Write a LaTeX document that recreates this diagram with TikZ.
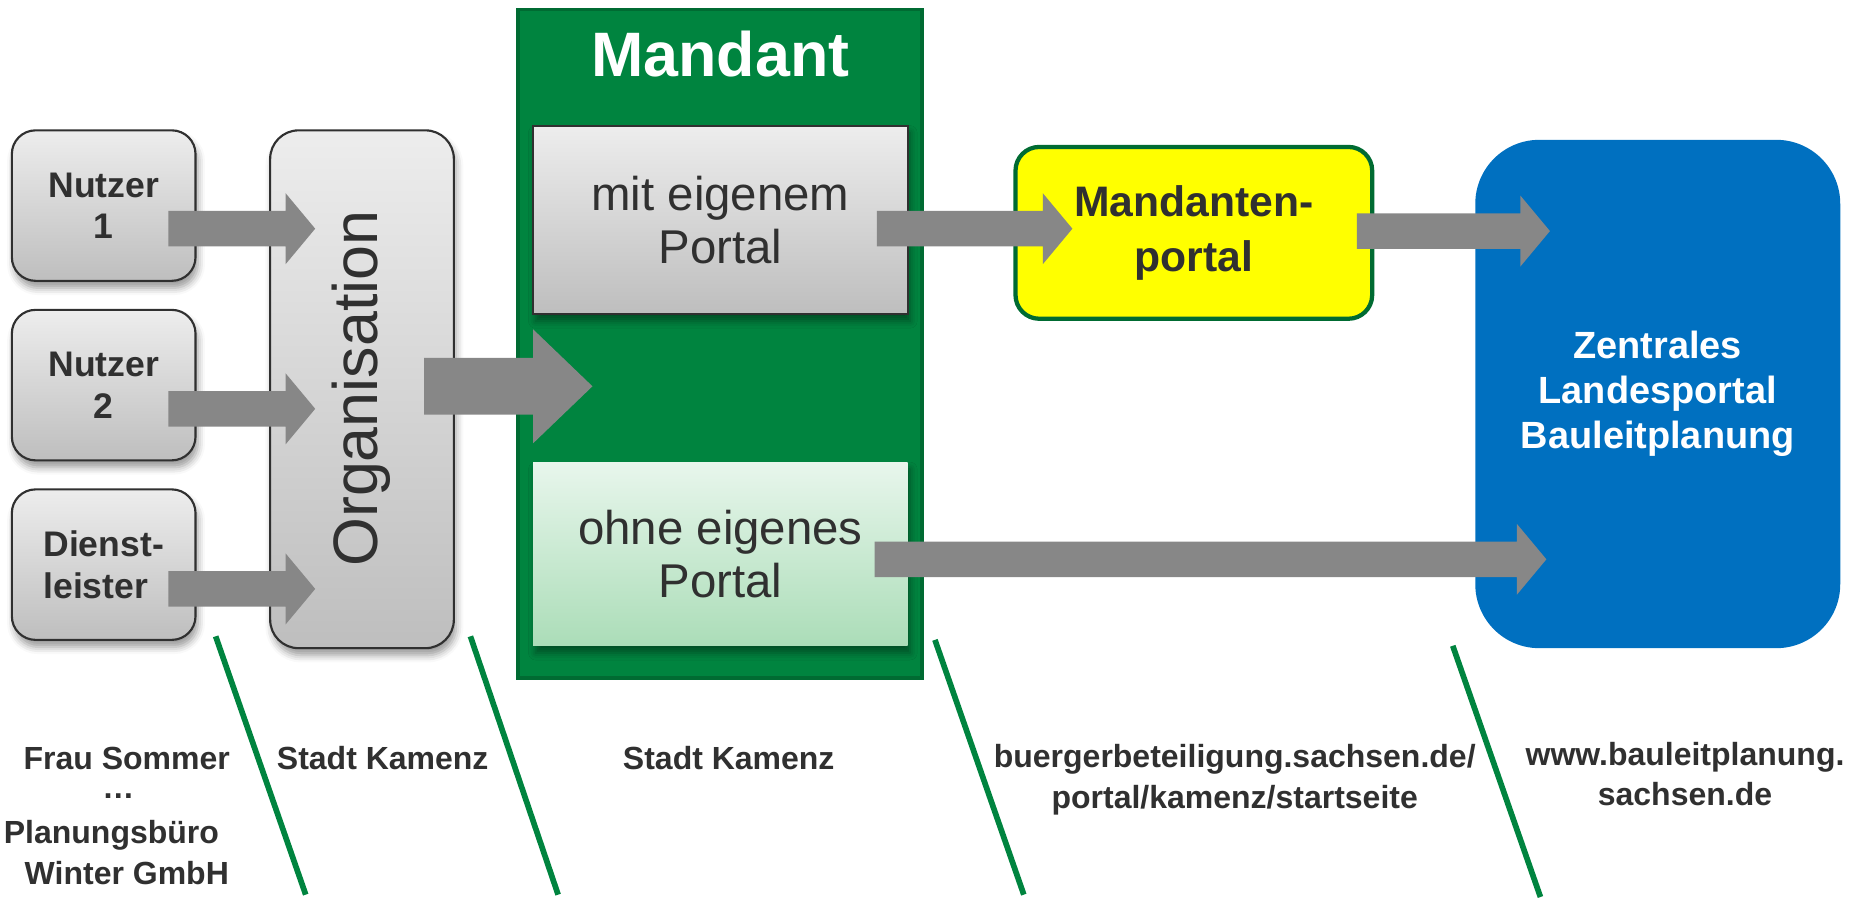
\documentclass[tikz,border=0pt]{standalone}
\usepackage{fontspec}
\setmainfont{Liberation Sans}
\usetikzlibrary{calc,shadows.blur}
\definecolor{txt}{HTML}{303030}
\definecolor{agray}{HTML}{878787}
\definecolor{mgreen}{HTML}{00843F}
\definecolor{mgreendark}{HTML}{006B32}
\definecolor{lgreentop}{HTML}{E8F6EC}
\definecolor{lgreenbot}{HTML}{ABDDB8}
\definecolor{gtop}{HTML}{EDEDED}
\definecolor{gbot}{HTML}{BEBEBE}
\definecolor{lblue}{HTML}{0070C0}
\definecolor{pyellow}{HTML}{FFFF00}
\newcommand\blockarrow[5]{%
  \fill[arrowfill] let \p1=(#1), \p2=(#2) in
    (\x1,\y1+#3) -- (\x2-#5,\y1+#3) -- (\x2-#5,\y1+#4) -- (\x2,\y1)
    -- (\x2-#5,\y1-#4) -- (\x2-#5,\y1-#3) -- (\x1,\y1-#3) -- cycle;}
\begin{document}
\begin{tikzpicture}[x=0.5pt,y=-0.5pt,
  arrowfill/.style={fill=agray},
  softshadow/.style={blur shadow={shadow xshift=1pt,shadow yshift=-3pt,shadow blur radius=3pt,shadow opacity=40}},
  graybox/.style={draw=txt,line width=0.9pt,top color=gtop,bottom color=gbot,text=txt,align=center,softshadow},
  userbox/.style={graybox,rounded corners=10pt,minimum width=77.5pt,minimum height=63.5pt,font=\fontsize{15}{17.5}\selectfont\bfseries},
  portalbox/.style={minimum width=158pt,align=center,text=txt,font=\fontsize{20}{22.5}\selectfont,softshadow},
  bottomtext/.style={text=txt,font=\fontsize{13.5}{17}\selectfont\bfseries,align=center,inner sep=0pt},
  sepline/.style={draw=mgreen,line width=2.4pt}]
\useasboundingbox (0,0) rectangle (1568,760);

% left users
\node[userbox] (n1) at (87.5,173.5) {Nutzer\\1};
\node[userbox] (n2) at (87.5,325) {Nutzer\\2};
\node[userbox,align=left] (n3) at (87.5,476.5) {Dienst-\\leister};

% organisation
\node[graybox,rounded corners=12pt,minimum width=77.5pt,minimum height=218.5pt] (org) at (305.5,328.5) {};
\node[rotate=90,text=txt,font=\fontsize{26.5}{30}\selectfont] (orgt) at (305,328) {Organisation};

% Mandant
\node[draw=mgreendark,line width=1.5pt,fill=mgreen,minimum width=170.5pt,minimum height=282pt] (mand) at (607.5,290) {};
\node[text=white,font=\fontsize{26.5}{30}\selectfont\bfseries] (mtitle) at (608,46) {Mandant};
\node[portalbox,draw=txt,line width=0.9pt,top color=gtop,bottom color=gbot,minimum height=79.5pt] (mit) at (608,185.5) {mit eigenem\\Portal};
\node[portalbox,top color=lgreentop,bottom color=lgreenbot,minimum height=77.5pt] (ohne) at (608,467.5) {ohne eigenes\\Portal};

% Mandantenportal
\node[draw=mgreendark,line width=1.8pt,fill=pyellow,rounded corners=10pt,minimum width=150.5pt,minimum height=72.5pt,text=txt,align=center,font=\fontsize{18}{23}\selectfont\bfseries] (mp) at (1007.5,196.5) {Mandanten-\\portal};

% Landesportal
\node[fill=lblue,rounded corners=27pt,minimum width=154pt,minimum height=214.5pt,text=white,align=center,font=\fontsize{16}{19}\selectfont\bfseries] (lp) at (1399,332.5) {Zentrales\\Landesportal\\Bauleitplanung};

% arrows
\coordinate (a1s) at (142,193); \coordinate (a1e) at (266,193);
\coordinate (a2s) at (142,345); \coordinate (a2e) at (266,345);
\coordinate (a3s) at (142,497); \coordinate (a3e) at (266,497);
\coordinate (bs) at (358,326); \coordinate (be) at (500,326);
\coordinate (ms) at (740,193); \coordinate (me) at (905,193);
\coordinate (ps) at (1145,195); \coordinate (pe) at (1308,195);
\coordinate (os) at (738,472); \coordinate (oe) at (1305,472);
\blockarrow{a1s}{a1e}{7.5pt}{15pt}{12.5pt}
\blockarrow{a2s}{a2e}{7.5pt}{15pt}{12.5pt}
\blockarrow{a3s}{a3e}{7.5pt}{15pt}{12.5pt}
\blockarrow{bs}{be}{12pt}{24pt}{25pt}
\blockarrow{ms}{me}{7.5pt}{15pt}{12.5pt}
\blockarrow{ps}{pe}{7.5pt}{15pt}{12.5pt}
\blockarrow{os}{oe}{7.5pt}{15pt}{12.5pt}

% separator lines
\draw[sepline] (182,537) -- (258,755);
\draw[sepline] (397,537) -- (471,755);
\draw[sepline] (789,540) -- (864,755);
\draw[sepline] (1226,545) -- (1300,757);

% bottom labels
\node[bottomtext] (b1) at (107,640) {Frau Sommer};
\node[bottomtext] (b2) at (100,672) {…};
\node[bottomtext] (b3) at (94,705) {Planungsbüro};
\node[bottomtext] (b4) at (107,737) {Winter GmbH};
\node[bottomtext] (b5) at (323,640) {Stadt Kamenz};
\node[bottomtext] (b6) at (615,640) {Stadt Kamenz};
\node[bottomtext] (b7) at (1042,658) {buergerbeteiligung.sachsen.de/\\portal/kamenz/startseite};
\node[bottomtext] (b8) at (1422,653) {www.bauleitplanung.\\sachsen.de};
\end{tikzpicture}
\end{document}
